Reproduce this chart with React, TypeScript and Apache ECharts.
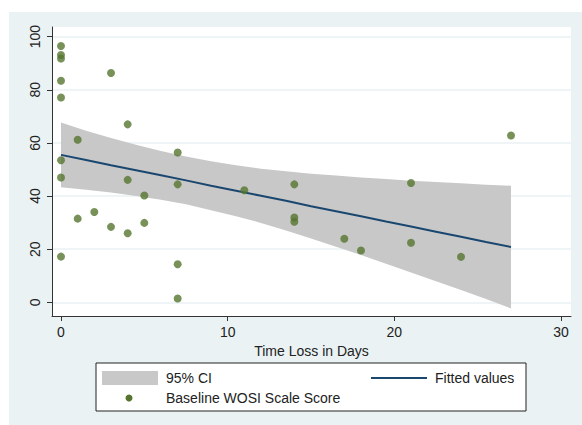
import React, { useEffect, useRef } from "react";
import * as echarts from "echarts";

const timeLoss = [0, 0, 0, 0, 0, 0, 0, 0, 1, 1, 2, 3, 3, 4, 4, 4, 5, 5, 7, 7, 7, 7, 11, 14, 14, 14, 17, 18, 21, 21, 24, 27];
const wosiScore = [96.5, 93.1, 91.8, 83.4, 77.1, 53.5, 47.0, 17.2, 61.2, 31.5, 34.0, 86.3, 28.4, 67.0, 46.1, 26.0, 40.2, 29.9, 56.4, 44.4, 14.3, 1.4, 42.2, 44.4, 31.9, 30.3, 23.9, 19.5, 44.9, 22.4, 17.1, 62.8];
const bandX = [0, 1.5, 3, 4.5, 6, 7.5, 9, 10.5, 12, 13.5, 15, 16.5, 18, 19.5, 21, 22.5, 24, 25.5, 27];
const ciUpper = [67.7, 64.6, 61.9, 59.3, 57.0, 54.9, 53.1, 51.6, 50.3, 49.3, 48.4, 47.7, 47.0, 46.4, 45.8, 45.3, 44.8, 44.3, 43.9];
const ciLower = [43.3, 42.4, 41.3, 40.0, 38.6, 36.9, 34.7, 32.4, 29.9, 27.0, 24.0, 20.9, 17.8, 14.5, 11.2, 7.9, 4.6, 1.2, -2.3];
const fitted = [55.5, 53.6, 51.6, 49.7, 47.8, 45.9, 43.9, 42.0, 40.1, 38.2, 36.2, 34.3, 32.4, 30.4, 28.5, 26.6, 24.7, 22.7, 20.8];
const xTicks = [0, 10, 20, 30];
const yTicks = [0, 20, 40, 60, 80, 100];

const FONT = '"Liberation Sans", Arial, sans-serif';
const GREEN = "#55752f";
const NAVY = "#1a476f";
const BAND = "#c8c8c8";
const BG = "#eaf2f3";

export default function App() {
  const ref = useRef<HTMLDivElement>(null);
  useEffect(() => {
    if (!ref.current) return;
    const chart = echarts.init(ref.current, null, { renderer: "svg" });
    const scatterData = timeLoss.map((x, i) => [x, wosiScore[i]]);
    const fitData = bandX.map((x, i) => [x, fitted[i]]);
    chart.setOption({
      animation: false,
      backgroundColor: "transparent",
      textStyle: { fontFamily: FONT },
      grid: {
        left: 43,
        top: 15,
        width: 519,
        height: 289,
        show: true,
        backgroundColor: "#ffffff",
        borderWidth: 0,
      },
      xAxis: {
        type: "value",
        min: -0.54,
        max: 30.6,
        name: "Time Loss in Days",
        nameLocation: "middle",
        nameGap: 24,
        nameTextStyle: { fontSize: 14, color: "#222", fontFamily: FONT },
        axisLine: { show: true, onZero: false, lineStyle: { color: "#333", width: 1 } },
        axisTick: { show: true, length: 5, customValues: xTicks, lineStyle: { color: "#333" } },
        axisLabel: { customValues: xTicks, fontSize: 14, color: "#222", margin: 9, fontFamily: FONT },
        splitLine: { show: false },
      },
      yAxis: {
        type: "value",
        min: -5.16,
        max: 103.65,
        axisLine: { show: true, onZero: false, lineStyle: { color: "#333", width: 1 } },
        axisTick: { show: true, length: 5, customValues: yTicks, lineStyle: { color: "#333" } },
        axisLabel: { customValues: yTicks, fontSize: 14, color: "#222", margin: 10, rotate: 90, fontFamily: FONT },
        splitLine: { show: false },
      },
      series: [
        {
          type: "line",
          data: [],
          z: 0,
          silent: true,
          markLine: {
            z: 0,
            silent: true,
            symbol: "none",
            label: { show: false },
            lineStyle: { color: BG, width: 1.5, type: "solid" },
            data: yTicks.map((v) => ({ yAxis: v })),
          },
        },
        {
          type: "custom",
          name: "95% CI",
          z: 1,
          silent: true,
          data: [[bandX[0], ciUpper[0]]],
          renderItem: (_params: any, api: any) => {
            const pts: number[][] = [];
            for (let i = 0; i < bandX.length; i++) pts.push(api.coord([bandX[i], ciUpper[i]]));
            for (let i = bandX.length - 1; i >= 0; i--) pts.push(api.coord([bandX[i], ciLower[i]]));
            return { type: "polygon", shape: { points: pts }, style: { fill: BAND } };
          },
        },
        {
          type: "line",
          name: "Fitted values",
          z: 2,
          data: fitData,
          symbol: "none",
          lineStyle: { color: NAVY, width: 2 },
        },
        {
          type: "scatter",
          name: "Baseline WOSI Scale Score",
          z: 3,
          data: scatterData,
          symbol: "circle",
          symbolSize: 8,
          itemStyle: { color: GREEN },
        },
      ],
      graphic: [
        {
          type: "rect",
          shape: { x: 87, y: 351, width: 430, height: 48 },
          style: { fill: "#ffffff", stroke: "#222", lineWidth: 1 },
        },
        {
          type: "rect",
          shape: { x: 93, y: 359, width: 56, height: 14 },
          style: { fill: BAND },
        },
        {
          type: "text",
          x: 157,
          y: 366,
          style: { text: "95% CI", fontSize: 14, fill: "#222", fontFamily: FONT, textVerticalAlign: "middle" },
        },
        {
          type: "line",
          shape: { x1: 362, y1: 366, x2: 418, y2: 366 },
          style: { stroke: NAVY, lineWidth: 2 },
        },
        {
          type: "text",
          x: 426,
          y: 366,
          style: { text: "Fitted values", fontSize: 14, fill: "#222", fontFamily: FONT, textVerticalAlign: "middle" },
        },
        {
          type: "circle",
          shape: { cx: 120, cy: 386, r: 3.5 },
          style: { fill: GREEN },
        },
        {
          type: "text",
          x: 157,
          y: 386,
          style: { text: "Baseline WOSI Scale Score", fontSize: 14, fill: "#222", fontFamily: FONT, textVerticalAlign: "middle" },
        },
      ],
    });
    return () => chart.dispose();
  }, []);
  return (
    <div
      ref={ref}
      style={{ position: "absolute", left: 9, top: 12, width: 573, height: 413, background: BG }}
    />
  );
}
